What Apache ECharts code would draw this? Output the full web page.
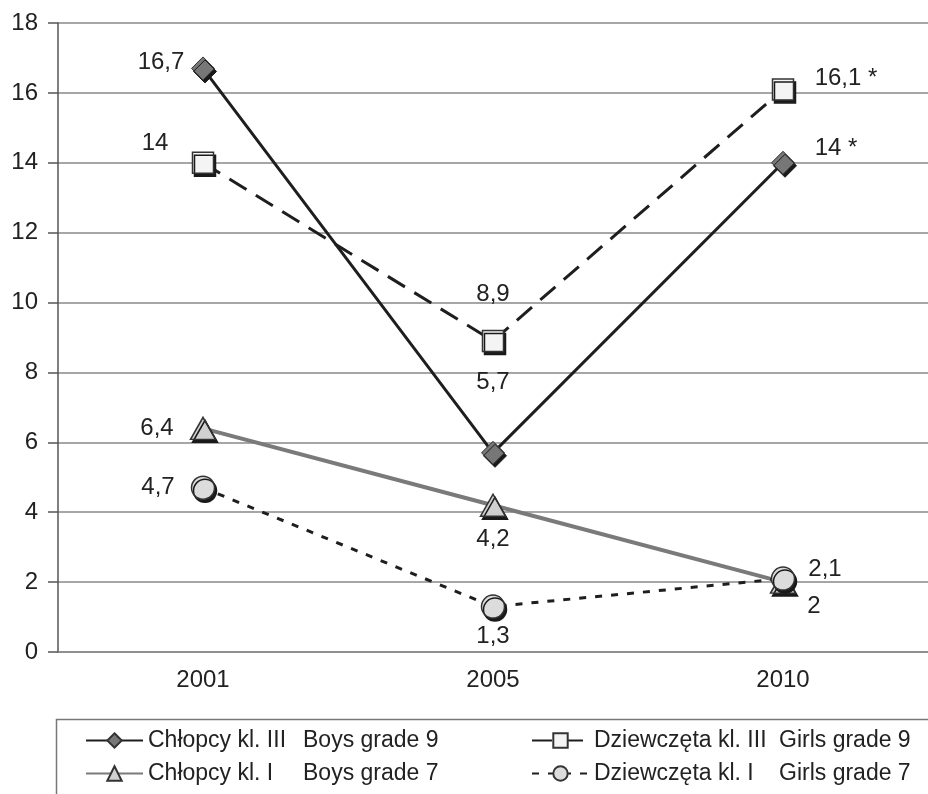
<!DOCTYPE html>
<html><head><meta charset="utf-8">
<script src="https://cdn.jsdelivr.net/npm/echarts@6/dist/echarts.min.js"></script>
<style>html,body{margin:0;padding:0;background:#fff}#c{width:928px;height:794px}</style>
</head><body><div id="c"></div>
<script>
const years = ['2001', '2005', '2010'];
const yTicks = [0, 2, 4, 6, 8, 10, 12, 14, 16, 18];
const boys9 = [16.7, 5.7, 14];
const girls9 = [14, 8.9, 16.1];
const boys7 = [6.4, 4.2, 2];
const girls7 = [4.7, 1.3, 2.1];
const suffix9 = ['', '', ' *'];
const suffix7 = ['', '', ''];
const namesPL = ['Chłopcy kl. III', 'Dziewczęta kl. III', 'Chłopcy kl. I', 'Dziewczęta kl. I'];
const namesEN = ['Boys grade 9', 'Girls grade 9', 'Boys grade 7', 'Girls grade 7'];

const FONT = '"Liberation Sans", Arial, sans-serif';
const fmt = v => String(v).replace('.', ',');

function mkData(vals, sfx, offsets) {
  return vals.map((v, i) => ({
    value: v,
    label: {
      show: true, position: 'inside', offset: offsets[i],
      formatter: fmt(v) + sfx[i],
      fontSize: 24, fontFamily: FONT, color: '#222'
    }
  }));
}
const shadow = {shadowColor: '#1a1a1a', shadowOffsetX: 2, shadowOffsetY: 3, shadowBlur: 0};

const chart = echarts.init(document.getElementById('c'), null, {renderer: 'canvas'});
const legendFormatter = (name) => {
  const i = namesPL.indexOf(name);
  return '{a|' + name + '}{b|' + namesEN[i] + '}';
};
const legendRich = (w) => ({
  a: {width: w, fontSize: 23, lineHeight: 26, fontFamily: FONT, color: '#222'},
  b: {fontSize: 23, lineHeight: 26, fontFamily: FONT, color: '#222'}
});
chart.setOption({
  animation: false,
  backgroundColor: '#fff',
  grid: {left: 58, right: -3, top: 23, bottom: 142, containLabel: false},
  xAxis: {
    type: 'category', data: years, boundaryGap: true,
    axisLine: {show: true, lineStyle: {color: '#888', width: 1.5}},
    axisTick: {show: false},
    axisLabel: {fontSize: 24, fontFamily: FONT, color: '#222', margin: 16}
  },
  yAxis: {
    type: 'value', min: yTicks[0], max: yTicks[yTicks.length - 1], interval: 2,
    axisLine: {show: true, lineStyle: {color: '#555', width: 1.5}},
    axisTick: {show: true, length: 10, lineStyle: {color: '#555', width: 1.5}},
    axisLabel: {fontSize: 24, fontFamily: FONT, color: '#222', margin: 20},
    splitLine: {show: true, lineStyle: {color: '#888', width: 1.5}}
  },
  legend: [
    {
      data: [namesPL[0], namesPL[2]], orient: 'vertical', left: 85, top: 729,
      width: 420, height: 120, padding: 0,
      itemWidth: 57, itemHeight: 18, itemGap: 10,
      formatter: legendFormatter, textStyle: {rich: legendRich(155)}
    },
    {
      data: [namesPL[1], namesPL[3]], orient: 'vertical', left: 531, top: 729,
      width: 420, height: 120, padding: 0,
      itemWidth: 57, itemHeight: 18, itemGap: 10,
      formatter: legendFormatter, textStyle: {rich: legendRich(185)}
    }
  ],
  graphic: [{
    type: 'rect', left: 54, top: 717, z: -1,
    shape: {width: 900, height: 100},
    style: {fill: 'none', stroke: '#777', lineWidth: 1.5}
  }],
  series: [
    {
      name: namesPL[0], type: 'line', z: 4,
      data: mkData(boys9, suffix9, [[-42, -6], [0, -70], [53, -14]]),
      symbol: 'diamond', symbolSize: 23,
      lineStyle: {color: '#1e1e1e', width: 3},
      itemStyle: Object.assign({color: '#777', borderColor: '#333', borderWidth: 1}, shadow)
    },
    {
      name: namesPL[1], type: 'line', z: 3,
      data: mkData(girls9, suffix9, [[-48, -19], [0, -47], [63, -11]]),
      symbol: 'rect', symbolSize: 21,
      lineStyle: {color: '#1e1e1e', width: 3, type: [20, 11]},
      itemStyle: Object.assign({color: '#f4f4f4', borderColor: '#333', borderWidth: 1.5}, shadow)
    },
    {
      name: namesPL[2], type: 'line', z: 2,
      data: mkData(boys7, suffix7, [[-46, 0], [0, 34], [31, 24]]),
      symbol: 'triangle', symbolSize: [25, 22],
      lineStyle: {color: '#7a7a7a', width: 4},
      itemStyle: Object.assign({color: '#d0d0d0', borderColor: '#333', borderWidth: 1.5}, shadow)
    },
    {
      name: namesPL[3], type: 'line', z: 5,
      data: mkData(girls7, suffix7, [[-45, 0], [0, 30], [42, -9]]),
      symbol: 'circle', symbolSize: 23,
      lineStyle: {color: '#1e1e1e', width: 3, type: [7, 9]},
      itemStyle: Object.assign({color: '#dcdcdc', borderColor: '#333', borderWidth: 1.5}, shadow)
    }
  ]
});
</script></body></html>
